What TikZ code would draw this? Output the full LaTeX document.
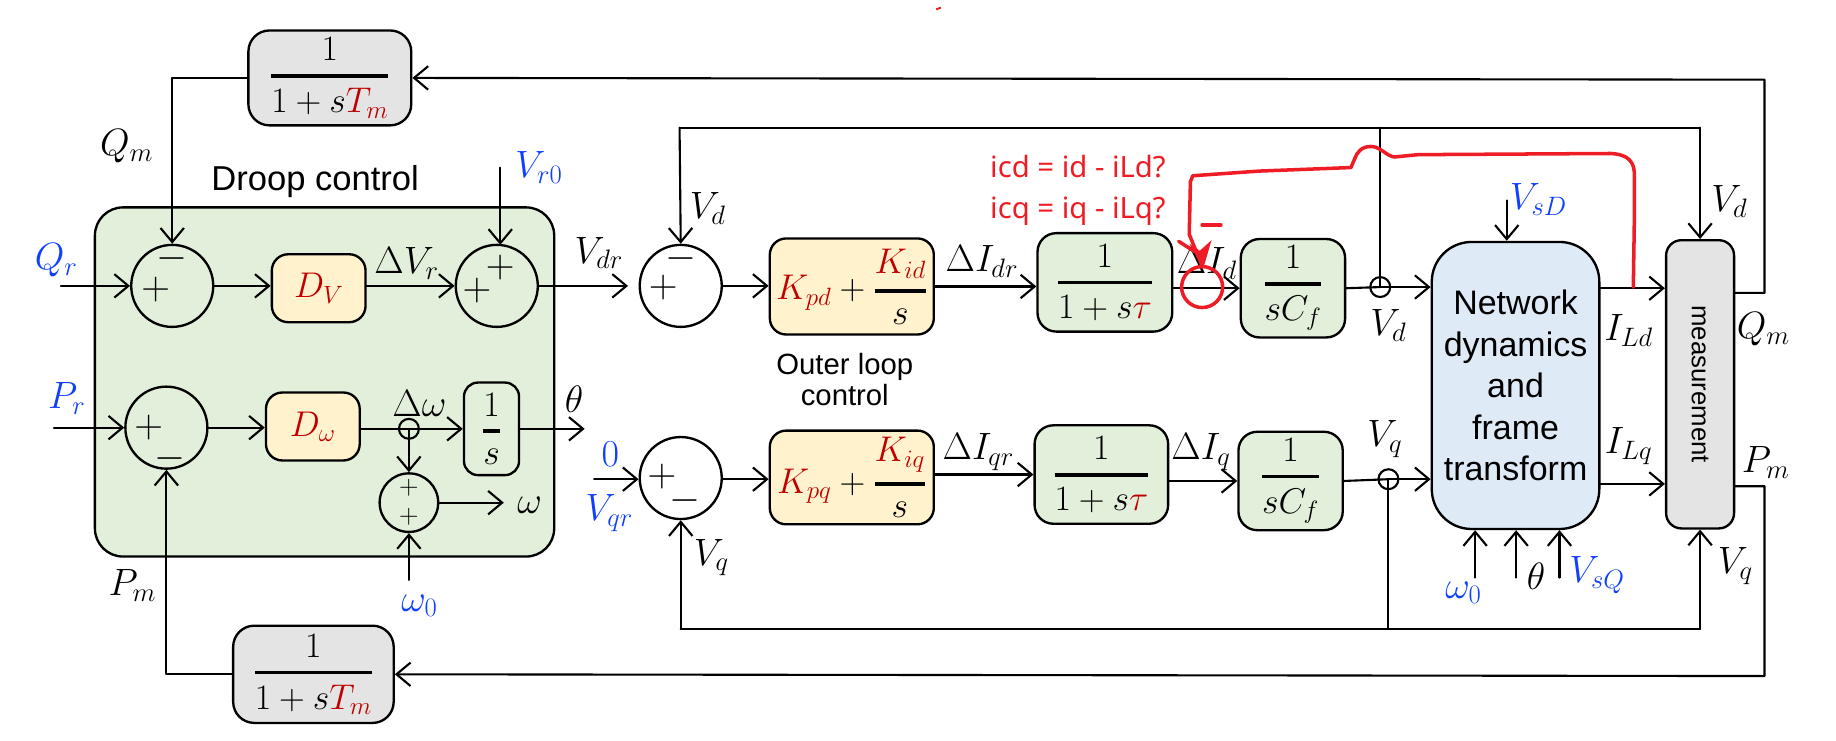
\RequirePackage{fix-cm}
\documentclass[tikz,border=0pt]{standalone}
\usepackage{amsmath}
\usepackage[no-math]{fontspec}
\setsansfont{Liberation Sans}
\newfontfamily\redfont{Noto Sans}
\usetikzlibrary{arrows.meta}
\definecolor{mred}{HTML}{C00000}
\definecolor{mblue}{HTML}{0F3FFF}
\definecolor{ann}{HTML}{EE1C25}
\definecolor{gfill}{HTML}{E2EFDA}
\definecolor{yfill}{HTML}{FFF2CC}
\definecolor{bfill}{HTML}{DEEAF6}
\definecolor{gyfill}{HTML}{E4E4E4}
\newcommand{\fr}[2]{\genfrac{}{}{3pt}{0}{#1}{#2}}
\newcommand{\rd}[1]{\textcolor{mred}{#1}}
\newcommand{\bl}[1]{\textcolor{mblue}{#1}}
\tikzset{
  >={Straight Barb[length=12pt,width=20pt,line width=1.8pt]},
  wire/.style={line width=1.8pt,line cap=round,line join=round},
  flow/.style={wire,->},
  box/.style={draw=black,line width=2pt,inner sep=0pt,align=center,font=\fontsize{30.5}{34}\selectfont},
  gbox/.style={box,fill=gfill,rounded corners=16pt},
  ybox/.style={box,fill=yfill,rounded corners=14pt},
  gybox/.style={box,fill=gyfill,rounded corners=18pt},
  sumc/.style={circle,draw=black,line width=2pt,minimum size=70pt,inner sep=0pt},
  smallsum/.style={circle,draw=black,line width=2pt,minimum size=50pt,inner sep=0pt},
  jn/.style={circle,draw=black,line width=1.8pt,minimum size=17pt,inner sep=0pt},
  lab/.style={inner sep=0pt,font=\fontsize{32.5}{36}\selectfont},
  sgn/.style={inner sep=0pt,font=\fontsize{34}{38}\selectfont},
  ssgn/.style={inner sep=0pt,font=\fontsize{23}{26}\selectfont},
  captxt/.style={inner sep=0pt,align=center,font=\sffamily\fontsize{25}{26}\selectfont},
  redwire/.style={draw=ann,line width=3pt,line cap=round,line join=round},
  redtxt/.style={inner sep=0pt,text=ann,font=\redfont\fontsize{25}{28}\selectfont},
}
\begin{document}
\begin{tikzpicture}[x=1pt,y=-1pt]
\useasboundingbox (0,0) rectangle (1567,631.6);

% droop region
\node[draw=black,line width=2pt,fill=gfill,rounded corners=24pt,minimum width=392pt,minimum height=298pt,inner sep=0pt] (droop) at (277,326) {};
\node[captxt,font=\sffamily\fontsize{29.5}{32}\selectfont] (droopT) at (269,155) {Droop control};

% summers
\node[sumc] (s1) at (147,244) {};
\node[sumc] (s2) at (424,244) {};
\node[sumc] (s3) at (581,244) {};
\node[sumc] (s4) at (142,365) {};
\node[sumc] (s6) at (581,408) {};
\node[smallsum] (s5) at (349,429) {};
\node[sgn] (s1a) at (147,221) {$-$};
\node[sgn] (s1b) at (133,247) {$+$};
\node[sgn] (s2a) at (427,228) {$+$};
\node[sgn] (s2b) at (407,248) {$+$};
\node[sgn] (s3a) at (581,221) {$-$};
\node[sgn] (s3b) at (566,245) {$+$};
\node[sgn] (s4a) at (127,365) {$+$};
\node[sgn] (s4b) at (145,391) {$-$};
\node[sgn] (s6a) at (565,407) {$+$};
\node[sgn] (s6b) at (585,427) {$-$};
\node[ssgn] (s5a) at (349,416) {$+$};
\node[ssgn] (s5b) at (349,441) {$+$};

% blocks
\node[gybox,minimum width=139pt,minimum height=81pt] (ft) at (281.5,66.5) {$\fr{1}{1+s\rd{T_m}}$};
\node[gybox,minimum width=137pt,minimum height=83pt] (fb) at (267.5,575.5) {$\fr{1}{1+s\rd{T_m}}$};
\node[ybox,minimum width=80pt,minimum height=58pt] (dv) at (272,246) {$\rd{D_V}$};
\node[ybox,minimum width=80pt,minimum height=58pt] (dw) at (267,364) {$\rd{D_\omega}$};
\node[gbox,rounded corners=12pt,minimum width=47pt,minimum height=79pt] (int) at (419.5,366) {$\fr{1}{s}$};
\node[ybox,minimum width=140pt,minimum height=82pt] (pid) at (727,244.5) {$\rd{K_{pd}}+\fr{\rd{K_{id}}}{s}$};
\node[ybox,minimum width=140pt,minimum height=80pt] (piq) at (727,407.5) {$\rd{K_{pq}}+\fr{\rd{K_{iq}}}{s}$};
\node[gbox,minimum width=115pt,minimum height=84pt] (td) at (943,241) {$\fr{1}{1+s\rd{\tau}}$};
\node[gbox,minimum width=114pt,minimum height=84pt] (tq) at (940,405) {$\fr{1}{1+s\rd{\tau}}$};
\node[gbox,minimum width=89pt,minimum height=84pt] (cd) at (1103.5,246) {$\fr{1}{sC_f}$};
\node[gbox,minimum width=89pt,minimum height=84pt] (cq) at (1101.5,410.5) {$\fr{1}{sC_f}$};
\node[box,fill=bfill,rounded corners=34pt,minimum width=143pt,minimum height=245pt,font=\sffamily\fontsize{29}{35.5}\selectfont] (net) at (1293.5,329) {Network\\dynamics\\and\\frame\\transform};
\node[box,fill=gyfill,rounded corners=13pt,minimum width=58pt,minimum height=246pt,font=\sffamily\fontsize{22}{24}\selectfont] (meas) at (1451,328) {\rotatebox{-90}{measurement}};

% junction dots
\node[jn] (jw) at (349,366) {};
\node[jn] (jd) at (1178,245) {};
\node[jn] (jq) at (1185,409) {};

% free ends and corners
\coordinate (qrIn) at (52,244);
\coordinate (prIn) at (46,365);
\coordinate (v0In) at (427,143);
\coordinate (s2t) at (427,209);
\coordinate (w0In) at (349,495);
\coordinate (wOut) at (430,429);
\coordinate (thOut) at (499,366);
\coordinate (vdrOut) at (536,244);
\coordinate (zIn) at (507,409);
\coordinate (topL) at (580,109);
\coordinate (topJ) at (1178,109);
\coordinate (topR) at (1451,109);
\coordinate (botL) at (581,537);
\coordinate (botJ) at (1185,537);
\coordinate (botR) at (1451,537);
\coordinate (mQ) at (1480,250);
\coordinate (mP) at (1480,415);
\coordinate (rQ) at (1506,250);
\coordinate (rQt) at (1506,68);
\coordinate (rP) at (1506,415);
\coordinate (rPb) at (1506,577);
\coordinate (sdIn) at (1286,171);
\coordinate (w1In) at (1259,493);
\coordinate (w2In) at (1294,493);
\coordinate (w3In) at (1331,493);
\coordinate (yA) at (0,246);
\coordinate (yB) at (0,413);

% connectors, droop
\draw[flow] (qrIn) -- (s1.west);
\draw[flow] (s1.east) -- (dv.west |- s1.east);
\draw[flow] (dv.east |- s2.west) -- (s2.west);
\draw[flow] (v0In) -- (s2t);
\draw[flow] (s2.east) -- (vdrOut);
\draw[flow] (prIn) -- (s4.west);
\draw[flow] (s4.east) -- (dw.west |- s4.east);
\draw[flow] (dw.east |- int.west) -- (int.west);
\draw[flow] (int.east) -- (thOut);
\draw[flow] (jw.center) -- (s5.north);
\draw[flow] (s5.east) -- (wOut);
\draw[flow] (w0In) -- (s5.south);
\draw[flow] (ft.west) -| (s1.north);
\draw[flow] (fb.west) -| (s4.south);

% connectors, d channel
\draw[flow] (s3.east) -- (pid.west |- s3.east);
\draw[flow] (pid.east) -- (td.west |- pid.east);
\draw[flow] (td.east |- cd.west) -- (cd.west);
\draw[wire] (cd.east) -- (jd.center);
\draw[flow] (jd.center) -- (net.west |- jd);
\draw[wire] (jd.center) -- (topJ);
\draw[flow] (topL) -- (s3.north);
\draw[wire] (topL) -- (topR);
\draw[flow] (topR) -- (meas.north);

% connectors, q channel
\draw[flow] (zIn) -- (s6.west |- zIn);
\draw[flow] (s6.east |- zIn) -- (piq.west |- zIn);
\draw[flow] (piq.east |- tq.west) -- (tq.west);
\draw[flow] (tq.east |- cq.west) -- (cq.west);
\draw[wire] (cq.east) -- (jq.center);
\draw[flow] (jq.center) -- (net.west |- jq);
\draw[wire] (jq.center) -- (botJ);
\draw[wire] (botL) -- (botR);
\draw[flow] (botL) -- (s6.south);
\draw[flow] (botR) -- (meas.south);

% connectors, right side
\draw[flow] (sdIn) -- (net.north -| sdIn);
\draw[flow] (w1In) -- (net.south -| w1In);
\draw[flow] (w2In) -- (net.south -| w2In);
\draw[flow] (w3In) -- (net.south -| w3In);
\draw[flow] (net.east |- yA) -- (meas.west |- yA);
\draw[flow] (net.east |- yB) -- (meas.west |- yB);
\draw[flow] (mQ) -- (rQ) -- (rQt) -- (ft.east);
\draw[flow] (mP) -- (rP) -- (rPb) -- (fb.east);

% labels
\node[lab] (lQm) at (108,125) {$Q_m$};
\node[lab] (lQr) at (48,222) {$\bl{Q_r}$};
\node[lab] (lVr0) at (460,143) {$\bl{V_{r0}}$};
\node[lab] (lDV) at (347,225) {$\Delta V_r$};
\node[lab] (lVdr) at (511,216) {$V_{dr}$};
\node[lab] (lPr) at (57,340) {$\bl{P_r}$};
\node[lab] (lDw) at (358,344) {$\Delta\omega$};
\node[lab] (lTh) at (490,341) {$\theta$};
\node[lab] (lW) at (452,431) {$\omega$};
\node[lab] (lW0) at (358,517) {$\bl{\omega_0}$};
\node[lab] (lPm) at (113,500) {$P_m$};
\node[lab] (lVd1) at (604,178) {$V_d$};
\node[lab] (lIdr) at (838,223) {$\Delta I_{dr}$};
\node[lab] (lId) at (1030,225) {$\Delta I_d$};
\node[lab] (lVd2) at (1185,278) {$V_d$};
\node[lab] (lZ) at (521,388) {$\bl{0}$};
\node[lab] (lVqr) at (520,438) {$\bl{V_{qr}}$};
\node[lab] (lVq1) at (607,476) {$V_q$};
\node[lab] (lIqr) at (835,386) {$\Delta I_{qr}$};
\node[lab] (lIq) at (1025,386) {$\Delta I_q$};
\node[lab] (lVq2) at (1182,375) {$V_q$};
\node[lab] (lVsD) at (1313,170) {$\bl{V_{sD}}$};
\node[lab] (lIL) at (1390,282) {$I_{Ld}$};
\node[lab] (lILq) at (1390,381) {$I_{Lq}$};
\node[lab] (lVd3) at (1476,172) {$V_d$};
\node[lab] (lQm2) at (1505,281) {$Q_m$};
\node[lab] (lPm2) at (1507,395) {$P_m$};
\node[lab] (lVq3) at (1481,483) {$V_q$};
\node[lab] (lW02) at (1249,506) {$\bl{\omega_0}$};
\node[lab] (lTh2) at (1311,492) {$\theta$};
\node[lab] (lVsQ) at (1363,491) {$\bl{V_{sQ}}$};

\node[captxt] (outerT) at (721,324) {Outer loop\\control};

% red annotation
\node[redtxt] (ic1) at (920,142) {icd = id - iLd?};
\node[redtxt] (ic2) at (920,180) {icq = iq - iLq?};
\node[draw=ann,line width=3pt,circle,minimum size=35pt,inner sep=0pt] (rc) at (1026,245) {};
\coordinate (ra) at (1394,245);
\coordinate (rb) at (1015,200);
\draw[redwire] (ra) -- (1395,180) -- (1395,150) .. controls (1395,138) and (1390,132) .. (1375,131)
  -- (1210,132) -- (1190,134) .. controls (1183,133) and (1178,125) .. (1170,125)
  .. controls (1162,125) and (1158,130) .. (1156,136) -- (1153,143) -- (1075,146) -- (1018,150) -- (1016,155) -- (rb)
  -- (1026,227);
\fill[ann] (1027,229) -- (1015,208) -- (1024,214) -- (1034,205) -- cycle;
\draw[redwire] (1020,215) -- (1006,206);
\draw[redwire] (1026,192) -- (1042,192);
\draw[draw=ann,line width=1.6pt] (799,8) -- (803,6.5);
\end{tikzpicture}
\end{document}
